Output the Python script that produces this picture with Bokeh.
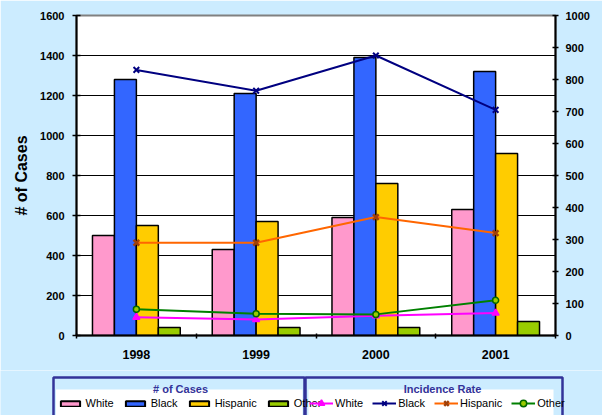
import numpy as np
from bokeh.plotting import figure
from bokeh.layouts import column
from bokeh.models import (Range1d, LinearAxis, FixedTicker, Legend, LegendItem,
                          Label, ColumnDataSource)
from bokeh.embed import file_html
from bokeh.resources import INLINE

years = ["1998", "1999", "2000", "2001"]
cases_white = [500, 430, 590, 630]
cases_black = [1280, 1210, 1390, 1320]
cases_hispanic = [550, 570, 760, 910]
cases_other = [40, 40, 40, 70]
rate_white = [57, 50, 62, 70]
rate_black = [830, 765, 875, 705]
rate_hispanic = [290, 290, 370, 320]
rate_other = [82, 68, 66, 110]
left_ticks = [0, 200, 400, 600, 800, 1000, 1200, 1400, 1600]
right_ticks = [0, 100, 200, 300, 400, 500, 600, 700, 800, 900, 1000]

BG = "#CCECFF"
NAVY = "#333399"
FONT = "Liberation Sans"
W = 602
H_MAIN = 370
H_LEG = 45

p = figure(width=W, height=H_MAIN, output_backend="svg", toolbar_location=None,
           x_range=Range1d(0, 4), y_range=Range1d(0, 1600),
           min_border_left=76, min_border_right=47, min_border_top=15,
           min_border_bottom=35, background_fill_color="white",
           border_fill_color=BG, outline_line_color="#808080",
           outline_line_width=2, frame_align=False)
p.extra_y_ranges = {"rate": Range1d(0, 1000)}

xs = np.arange(len(years)) + 0.5

# x axis
xa = p.xaxis[0]
xa.ticker = FixedTicker(ticks=list(xs), minor_ticks=[0, 1, 2, 3, 4])
xa.major_label_overrides = {float(x): y for x, y in zip(xs, years)}
xa.major_tick_in = 0
xa.major_tick_out = 0
xa.minor_tick_in = 2
xa.minor_tick_out = 3
xa.minor_tick_line_color = "black"
xa.minor_tick_line_width = 1.5
xa.axis_line_width = 2
xa.axis_line_color = "black"
xa.major_label_standoff = 11
xa.major_label_text_font = FONT
xa.major_label_text_font_style = "bold"
xa.major_label_text_font_size = "12.5px"
xa.major_label_text_color = "black"

# left axis
ya = p.yaxis[0]
ya.ticker = FixedTicker(ticks=left_ticks, minor_ticks=[])
ya.major_tick_in = 4
ya.major_tick_out = 4
ya.major_tick_line_width = 1.5
ya.axis_line_width = 2
ya.major_label_standoff = 8
ya.major_label_text_font = FONT
ya.major_label_text_font_style = "bold"
ya.major_label_text_font_size = "11px"
ya.major_label_text_color = "black"
ya.axis_label = "# of Cases"
ya.axis_label_text_font = FONT
ya.axis_label_text_font_style = "bold"
ya.axis_label_text_font_size = "16px"
ya.axis_label_text_color = "black"
ya.axis_label_standoff = 7

# right axis
ra = LinearAxis(y_range_name="rate", ticker=FixedTicker(ticks=right_ticks, minor_ticks=[]))
ra.major_tick_in = 3
ra.major_tick_out = 3
ra.major_tick_line_width = 1.5
ra.axis_line_width = 2
ra.major_label_standoff = 7
ra.major_label_text_font = FONT
ra.major_label_text_font_style = "bold"
ra.major_label_text_font_size = "11px"
ra.major_label_text_color = "black"
p.add_layout(ra, "right")

p.xgrid.visible = False
p.ygrid.ticker = FixedTicker(ticks=left_ticks[1:-1])
p.ygrid.grid_line_color = "black"
p.ygrid.grid_line_width = 1

# bars
bw = 0.1833
offsets = [-1.5 * bw, -0.5 * bw, 0.5 * bw, 1.5 * bw]
bar_series = [("White", cases_white, "#FF99CC"), ("Black", cases_black, "#3366FF"),
              ("Hispanic", cases_hispanic, "#FFCC00"), ("Other", cases_other, "#99CC00")]
for (name, vals, col), off in zip(bar_series, offsets):
    p.vbar(x=xs + off, top=vals, bottom=0, width=bw, fill_color=col,
           line_color="black", line_width=1.5)

# lines
line_specs = [
    ("White", rate_white, "#FF00FF", "triangle", "#FF00FF", "#FF00FF", 7, 1.5),
    ("Black", rate_black, "#000080", "x", "#000080", "#000080", 8, 2),
    ("Hispanic", rate_hispanic, "#FF6600", "x", "#A0400A", "#A0400A", 8, 2.5),
    ("Other", rate_other, "#008000", "circle", "#006600", "#99CC00", 6, 1.5),
]
for name, vals, col, mk, mlc, mfc, ms, mlw in line_specs:
    p.line(xs, vals, y_range_name="rate", line_color=col, line_width=2)
    p.scatter(xs, vals, y_range_name="rate", marker=mk, size=ms,
              line_color=mlc, fill_color=mfc, line_width=mlw)

# ---- legend panel (separate figure, pixel coordinates) ----
q = figure(width=W, height=H_LEG, output_backend="svg", toolbar_location=None,
           x_range=Range1d(0, W), y_range=Range1d(H_LEG, 0),
           x_axis_type=None, y_axis_type=None, min_border=0,
           background_fill_color=BG, border_fill_color=BG,
           outline_line_color=None, frame_align=False)
q.xgrid.visible = False
q.ygrid.visible = False

q.quad(left=[53, 305], right=[304, 562], top=[7, 7], bottom=[60, 60],
       fill_color=BG, line_color=NAVY, line_width=2.5)
q.quad(left=[55.5, 308], right=[302, 553], top=[19, 19], bottom=[60, 60],
       fill_color="white", line_color=None)

for txt, cx in [("# of Cases", 180), ("Incidence Rate", 442)]:
    q.add_layout(Label(x=cx, y=18, text=txt, text_align="center",
                       text_baseline="alphabetic", text_font=FONT,
                       text_font_style="bold", text_font_size="11px",
                       text_color=NAVY))

# hidden proxies (NaN data) so the legend can draw its swatches
proxy = ColumnDataSource(data=dict(x=[float("nan")], y=[float("nan")]))
bar_items = []
for name, vals, col in bar_series:
    r = q.vbar(x="x", top="y", width=1, source=proxy, fill_color=col,
               line_color="black", line_width=2)
    bar_items.append(LegendItem(label=name, renderers=[r]))
line_items = []
for name, vals, col, mk, mlc, mfc, ms, mlw in line_specs:
    l = q.line(x="x", y="y", source=proxy, line_color=col, line_width=2)
    s = q.scatter(x="x", y="y", source=proxy, marker=mk, size=ms,
                  line_color=mlc, fill_color=mfc, line_width=mlw)
    line_items.append(LegendItem(label=name, renderers=[l, s]))


def make_legend(items, loc, gw, gh, standoff, spacing):
    return Legend(items=items, orientation="horizontal", location=loc,
                  glyph_width=gw, glyph_height=gh, label_height=8,
                  label_standoff=standoff, spacing=spacing, padding=0, margin=0,
                  border_line_color=None, background_fill_alpha=0,
                  label_text_font=FONT, label_text_font_size="11px",
                  label_text_color="black")


q.add_layout(make_legend(bar_items, (57.6, 6), 24, 7, 4, 9))
q.add_layout(make_legend(line_items, (309, 4.5), 24, 16, 2, 9))

layout = column(p, q, spacing=0)
html = file_html(layout, INLINE)
html = html.replace("<body>", '<body style="background-color:%s">' % BG, 1)
open("out.html", "w").write(html)
